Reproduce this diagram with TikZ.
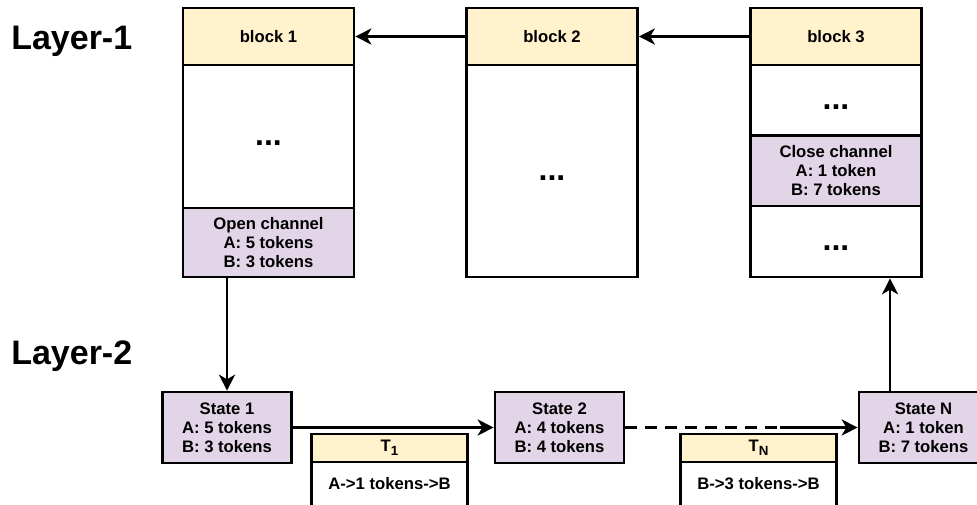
\documentclass[tikz,border=0pt]{standalone}
\usepackage{fontspec}
\setmainfont{Liberation Sans}
\usetikzlibrary{arrows.meta, positioning, calc}
\definecolor{hdryellow}{HTML}{FFF2CC}
\definecolor{statepurple}{HTML}{E1D5E7}
\newcommand{\tsub}[1]{\raisebox{-0.4ex}{\fontsize{10}{10}\selectfont #1}}

\begin{document}
\begin{tikzpicture}[x={(0.75pt,0)}, y={(0,-0.75pt)},
	box/.style={draw=black, line width=2pt, inner sep=0pt, align=center, font=\fontsize{12.5}{14.25}\selectfont\bfseries},
	hdr/.style={box, fill=hdryellow, minimum width=128.25pt, minimum height=42.75pt},
	blk/.style={box, fill=white, minimum width=128.25pt, font=\fontsize{24}{26}\selectfont\bfseries, text height=14pt, text depth=0pt},
	txbox/.style={box, fill=statepurple, minimum width=128.25pt},
	state/.style={box, fill=statepurple, minimum width=96.75pt, minimum height=53.25pt},
	thdr/.style={box, fill=hdryellow, minimum width=117pt, minimum height=21pt},
	tbody/.style={box, fill=white, minimum width=117pt, minimum height=33pt},
	layer/.style={inner sep=0pt, font=\fontsize{25.5}{28}\selectfont\bfseries},
	arr/.style={line width=2pt, -{Stealth[length=12pt, width=12pt, inset=3.5pt]}}]
	% Page frame
	\useasboundingbox (0,0) rectangle (977,504);

	% Layer labels
	\node[layer, anchor=base west] (lay1) at (11,49) {Layer-1};
	\node[layer, anchor=base west] (lay2) at (11,364) {Layer-2};

	% Layer-1: block 1
	\node[hdr] (b1h) at (268.5,36.5) {block 1};
	\node[blk, minimum height=107.25pt] (b1d) at (268.5,136.5) {...};
	\node[txbox, minimum height=51.75pt] (b1o) at (268.5,242.5) {Open channel\\A: 5 tokens\\B: 3 tokens};

	% Layer-1: block 2
	\node[hdr] (b2h) at (552,36.5) {block 2};
	\node[blk, minimum height=159pt] (b2d) at (552,171) {...};

	% Layer-1: block 3
	\node[hdr] (b3h) at (836,36.5) {block 3};
	\node[blk, minimum height=53.25pt] (b3d) at (836,100.5) {...};
	\node[txbox, minimum height=53.25pt] (b3c) at (836,171) {Close channel\\A: 1 token\\B: 7 tokens};
	\node[blk, minimum height=53.25pt] (b3e) at (836,241.5) {...};

	% Chain links
	\draw[arr] (b2h) -- (b1h);
	\draw[arr] (b3h) -- (b2h);

	% Layer-2: states
	\node[state] (s1) at (227,427.5) {State 1\\A: 5 tokens\\B: 3 tokens};
	\node[state] (s2) at (559.5,427.5) {State 2\\A: 4 tokens\\B: 4 tokens};
	\node[state] (sN) at (923.5,427.5) {State N\\A: 1 token\\B: 7 tokens};

	% Layer-2: transfers
	\node[thdr] (t1h) at (389.5,448) {T\tsub{1}};
	\node[tbody] (t1b) at (389.5,484) {A->1 tokens->B};
	\node[thdr] (tNh) at (758.5,448) {T\tsub{N}};
	\node[tbody] (tNb) at (758.5,484) {B->3 tokens->B};

	% Open and close
	\draw[arr] (b1o.south -| s1.north) -- (s1.north);
	\coordinate (upfoot) at ($(sN.north)+(-33.5,0)$);
	\draw[arr] (upfoot) -- (upfoot |- b3e.south);

	% State updates
	\draw[arr] (s1) -- (s2);
	\coordinate (gap) at (780,427.5);
	\draw[line width=2pt, dash pattern=on 9pt off 6pt] (s2.east) -- (gap);
	\draw[arr] (gap) -- (sN.west);
\end{tikzpicture}
\end{document}
